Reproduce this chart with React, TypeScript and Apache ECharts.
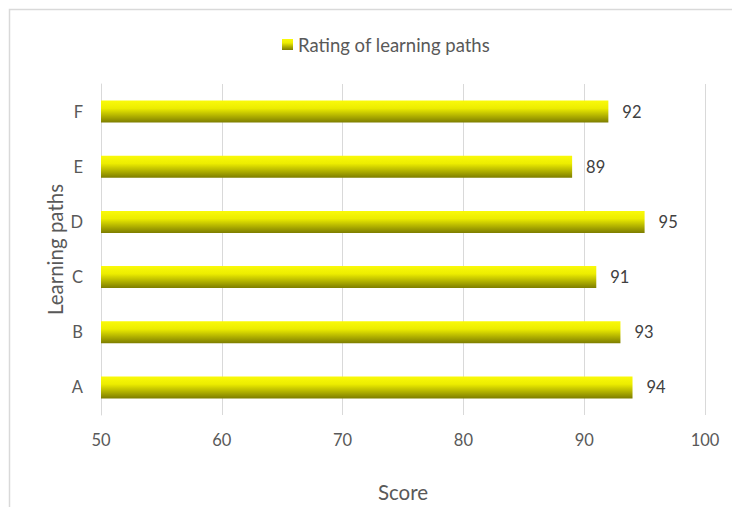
import React, { useEffect, useRef } from "react";
import * as echarts from "echarts";

const categories = ["A", "B", "C", "D", "E", "F"];
const ratings = [94, 93, 91, 95, 89, 92];
const seriesName = "Rating of learning paths";

const FONT = "Lato, 'Open Sans', sans-serif";

export default function App() {
  const ref = useRef<HTMLDivElement>(null);

  useEffect(() => {
    if (!ref.current) return;
    const chart = echarts.init(ref.current, undefined, { renderer: "svg" });
    const barFill = new echarts.graphic.LinearGradient(0, 0, 0, 1, [
      { offset: 0, color: "#fafa0a" },
      { offset: 0.35, color: "#eded00" },
      { offset: 1, color: "#7d7d00" },
    ]);
    chart.setOption({
      animation: false,
      textStyle: { fontFamily: FONT },
      graphic: [
        {
          type: "rect",
          shape: { x: 9.5, y: 9.5, width: 760, height: 540 },
          style: { fill: "none", stroke: "#d9d9d9", lineWidth: 1.5 },
          silent: true,
        },
      ],
      legend: {
        top: 30,
        left: 277,
        itemWidth: 11,
        itemHeight: 11,
        itemGap: 6,
        textStyle: { color: "#595959", fontSize: 18.5, fontFamily: FONT },
        data: [{ name: seriesName, icon: "rect" }],
      },
      grid: { left: 101, right: 27, top: 84, bottom: 90, containLabel: false },
      xAxis: {
        type: "value",
        min: 50,
        max: 100,
        interval: 10,
        name: "Score",
        nameLocation: "middle",
        nameGap: 66,
        nameMoveOverlap: false,
        nameTextStyle: { color: "#595959", fontSize: 20.5, fontFamily: FONT },
        axisLine: { show: false },
        axisTick: { show: false },
        axisLabel: { color: "#595959", fontSize: 16.5, margin: 16, fontFamily: FONT },
        splitLine: { show: true, lineStyle: { color: "#d9d9d9", width: 1 } },
      },
      yAxis: {
        type: "category",
        data: categories,
        name: "Learning paths",
        nameLocation: "middle",
        nameGap: 36,
        nameMoveOverlap: false,
        nameTextStyle: { color: "#595959", fontSize: 20.5, fontFamily: FONT },
        axisLine: { show: true, lineStyle: { color: "#d9d9d9", width: 1 } },
        axisTick: { show: false },
        axisLabel: { color: "#595959", fontSize: 16.5, margin: 18, fontFamily: FONT },
      },
      series: [
        {
          name: seriesName,
          type: "bar",
          data: ratings,
          barWidth: 22,
          itemStyle: { color: barFill },
          label: {
            show: true,
            position: "right",
            distance: 14,
            color: "#404040",
            fontSize: 16.5,
            fontFamily: FONT,
          },
        },
      ],
    });
    return () => chart.dispose();
  }, []);

  return (
    <div
      ref={ref}
      style={{ position: "fixed", left: 0, top: 0, width: 732, height: 507, background: "#fff" }}
    />
  );
}
